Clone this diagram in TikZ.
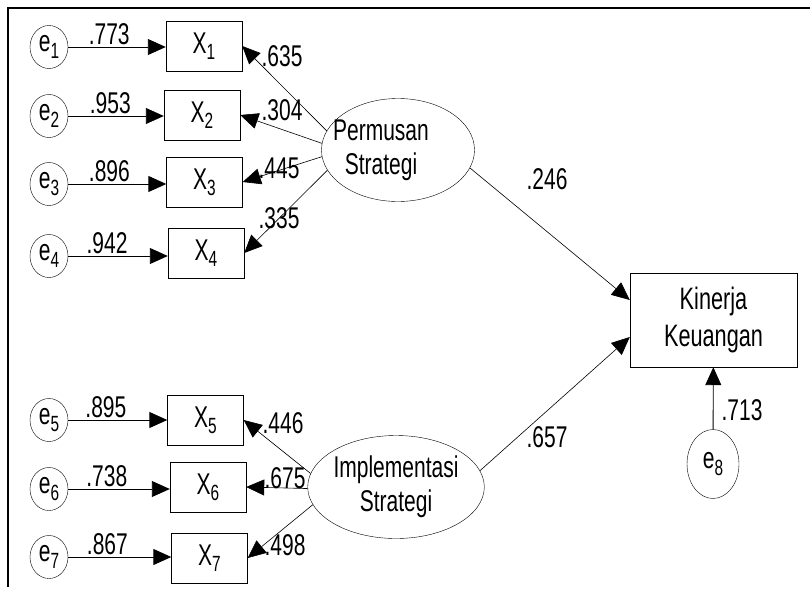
\documentclass[tikz,border=0pt]{standalone}
\usepackage{fontspec}
\setmainfont{Liberation Sans}[FakeStretch=0.7]
\usepackage{tikz}
\usetikzlibrary{shapes.geometric,arrows.meta}

\newcommand{\sbs}[1]{\raisebox{-0.4ex}{\fontsize{22}{22}\selectfont #1}}

\begin{document}
\begin{tikzpicture}[
			x=1pt, y=-1pt,
			every node/.style={font=\fontsize{30}{34}\selectfont},
			err/.style={draw, ellipse, inner sep=0pt, minimum width=38pt, minimum height=43pt},
			obs/.style={draw, rectangle, inner sep=0pt, minimum width=76pt, minimum height=50pt},
			lat/.style={draw, ellipse, inner sep=0pt, align=center, minimum width=153pt, minimum height=103pt},
			errarrow/.style={-{Triangle[length=18pt,width=16pt]}, line width=0.9pt},
			loadarrow/.style={-{Triangle[length=18pt,width=16pt]}, line width=0.6pt},
			lbl/.style={inner sep=2pt}
			]
			\useasboundingbox (0,0) rectangle (810,589);
			
			% Frame
			\draw[line width=2pt] (810,7.5) -- (7.5,7.5) -- (7.5,587);
			
			% Error terms
			\node[err] (e1) at (49,47) {e\sbs{1}};
			\node[err] (e2) at (49,116) {e\sbs{2}};
			\node[err] (e3) at (49,184) {e\sbs{3}};
			\node[err] (e4) at (49,256) {e\sbs{4}};
			\node[err] (e5) at (49,420) {e\sbs{5}};
			\node[err] (e6) at (49,489) {e\sbs{6}};
			\node[err] (e7) at (49,557) {e\sbs{7}};
			\node[err, minimum width=52pt, minimum height=69pt] (e8) at (713,464) {e\sbs{8}};
			
			% Indicators
			\node[obs] (X1) at (204,46) {X\sbs{1}};
			\node[obs] (X2) at (202,115) {X\sbs{2}};
			\node[obs] (X3) at (204.5,182) {X\sbs{3}};
			\node[obs] (X4) at (206,253) {X\sbs{4}};
			\node[obs] (X5) at (205.5,420) {X\sbs{5}};
			\node[obs] (X6) at (208,487) {X\sbs{6}};
			\node[obs] (X7) at (209.5,558) {X\sbs{7}};
			
			% Latent variables and outcome
			\node[lat] (perm) at (398,150) {\hspace*{-34pt}Permusan\\\hspace*{-34pt}Strategi};
			\node[lat] (impl) at (396,487) {Implementasi\\Strategi};
			\node[draw, rectangle, align=center, minimum width=167pt, minimum height=94pt, font=\fontsize{31}{37}\selectfont] (kin) at (713.5,320) {Kinerja\\Keuangan};
			
			% Error paths
			\draw[errarrow] (e1.east) -- (e1.east -| X1.west) node[lbl, above, pos=0.42] (w1) {.773};
			\draw[errarrow] (e2.east) -- (e2.east -| X2.west) node[lbl, above, pos=0.44] (w2) {.953};
			\draw[errarrow] (e3.east) -- (e3.east -| X3.west) node[lbl, above, pos=0.42] (w3) {.896};
			\draw[errarrow] (e4.east) -- (e4.east -| X4.west) node[lbl, above, pos=0.39] (w4) {.942};
			\draw[errarrow] (e5.east) -- (e5.east -| X5.west) node[lbl, above, pos=0.38] (w5) {.895};
			\draw[errarrow] (e6.east) -- (e6.east -| X6.west) node[lbl, above, pos=0.38] (w6) {.738};
			\draw[errarrow] (e7.east) -- (e7.east -| X7.west) node[lbl, above, pos=0.38] (w7) {.867};
			\draw[errarrow] (e8) -- (kin);
			
			% Loadings
			\draw[loadarrow] (perm.165) -- (X1.east);
			\draw[loadarrow] (perm.175) -- (X2.east);
			\draw[loadarrow] (perm.185) -- (X3.east);
			\draw[loadarrow] (perm.196) -- (X4.east);
			\draw[loadarrow] (impl.171) -- (X5.east);
			\draw[loadarrow] (impl.181) -- (X6.east);
			\draw[loadarrow] (impl.192) -- (X7.east);
			
			% Structural paths
			\draw[loadarrow] (perm.346) -- ([yshift=20pt]kin.west);
			\draw[loadarrow] (impl.11) -- ([yshift=-17pt]kin.west);
			
			% Coefficients
			\node[lbl] (l1) at (282,56) {.635};
			\node[lbl] (l2) at (282,110) {.304};
			\node[lbl] (l3) at (279,168) {.445};
			\node[lbl] (l4) at (279,218) {.335};
			\node[lbl] (l5) at (283,423) {.446};
			\node[lbl] (l6) at (285,478) {.675};
			\node[lbl] (l7) at (285,545) {.498};
			\node[lbl] (b1) at (547,179) {.246};
			\node[lbl] (b2) at (547,437) {.657};
			\node[lbl] (r8) at (742,410) {.713};
		\end{tikzpicture}
\end{document}
